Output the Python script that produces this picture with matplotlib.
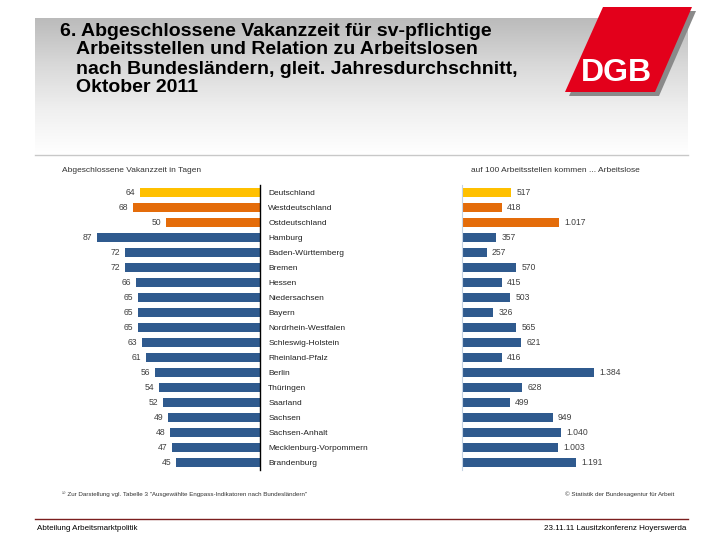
import numpy as np
import matplotlib.pyplot as plt
from matplotlib.patches import Polygon

plt.rcParams['font.family'] = ['Liberation Sans', 'DejaVu Sans']

# Daten
laender = ['Deutschland', 'Westdeutschland', 'Ostdeutschland', 'Hamburg', 'Baden-Württemberg',
           'Bremen', 'Hessen', 'Niedersachsen', 'Bayern', 'Nordrhein-Westfalen',
           'Schleswig-Holstein', 'Rheinland-Pfalz', 'Berlin', 'Thüringen', 'Saarland',
           'Sachsen', 'Sachsen-Anhalt', 'Mecklenburg-Vorpommern', 'Brandenburg']
vakanzzeit = [64, 68, 50, 87, 72, 72, 66, 65, 65, 65, 63, 61, 56, 54, 52, 49, 48, 47, 45]
arbeitslose = [517, 418, 1017, 357, 257, 570, 415, 503, 326, 565, 621, 416, 1384,
               628, 499, 949, 1040, 1003, 1191]

gelb = '#FFC000'
orange = '#E46C0A'
blau = '#2F5A8E'
farben = [gelb, orange, orange] + [blau] * (len(laender) - 3)

W, H = 720, 540
fig = plt.figure(figsize=(W / 100, H / 100), dpi=100)


def px_axes(x0, y0, x1, y1):
    # Achsen in Pixelkoordinaten (y von oben)
    return fig.add_axes([x0 / W, 1 - y1 / H, (x1 - x0) / W, (y1 - y0) / H])


# Hintergrund / Dekoration
bg = fig.add_axes([0, 0, 1, 1])
bg.set_xlim(0, W)
bg.set_ylim(H, 0)
bg.axis('off')

grad = np.linspace(0, 1, 200).reshape(-1, 1)
bg.imshow(grad, extent=(35, 688, 155, 18), cmap='Greys_r', vmin=-1.6, vmax=1.0,
          aspect='auto', zorder=0)
bg.plot([35, 688], [155, 155], color='#C8C8C8', lw=1)

titel = ['6. Abgeschlossene Vakanzzeit für sv-pflichtige',
         'Arbeitsstellen und Relation zu Arbeitslosen',
         'nach Bundesländern, gleit. Jahresdurchschnitt,',
         'Oktober 2011']
for i, zeile in enumerate(titel):
    bg.text(60 if i == 0 else 76, 31 + i * 19, zeile, fontsize=14, fontweight='bold',
            va='center', ha='left', color='black')

# DGB-Logo
bg.add_patch(Polygon([(569, 96), (608, 11), (696, 11), (659, 96)], closed=True,
                     facecolor='#8A8A8A', edgecolor='none', zorder=2))
bg.add_patch(Polygon([(565, 92), (603, 7), (692, 7), (655, 92)], closed=True,
                     facecolor='#E3001B', edgecolor='none', zorder=3))
bg.text(616, 73, 'DGB', color='white', fontsize=23, fontweight='bold',
        ha='center', va='center', zorder=4)

bg.plot([35, 688], [519, 519], color='#7B1F1F', lw=1)
bg.text(37, 529, 'Abteilung Arbeitsmarktpolitik', fontsize=5.8, va='center', ha='left')
bg.text(686, 529, '23.11.11 Lausitzkonferenz Hoyerswerda', fontsize=5.8, va='center', ha='right')

bg.text(62, 171, 'Abgeschlossene Vakanzzeit in Tagen', fontsize=6, va='center',
        ha='left', color='#333333')
bg.text(471, 171, 'auf 100 Arbeitsstellen kommen ... Arbeitslose', fontsize=6,
        va='center', ha='left', color='#333333')
bg.text(62, 494, '¹⁾ Zur Darstellung vgl. Tabelle 3 "Ausgewählte Engpass-Indikatoren nach Bundesländern"',
        fontsize=4.5, va='center', ha='left', color='#333333')
bg.text(674, 494, '© Statistik der Bundesagentur für Arbeit', fontsize=4.5,
        va='center', ha='right', color='#333333')

y = np.arange(len(laender))

# linkes Diagramm: Vakanzzeit
ax1 = px_axes(60, 185, 260, 470)
ax1.barh(y, vakanzzeit, height=0.55, color=farben)
ax1.set_xlim(106.7, 0)
ax1.set_ylim(len(laender) - 0.5, -0.5)
for yi, v in zip(y, vakanzzeit):
    ax1.text(v + 2.5, yi, str(v), fontsize=6.2, va='center', ha='right', color='#404040')
ax1.set_xticks([])
ax1.yaxis.tick_right()
ax1.set_yticks(y)
ax1.set_yticklabels(laender, fontsize=6, color='#222222')
ax1.tick_params(axis='y', length=0, pad=6)
for s in ['top', 'bottom', 'left']:
    ax1.spines[s].set_visible(False)
ax1.spines['right'].set_color('black')
ax1.spines['right'].set_linewidth(1)
ax1.patch.set_alpha(0)

# rechtes Diagramm: Arbeitslose je 100 Arbeitsstellen
ax2 = px_axes(462, 185, 662, 470)
ax2.barh(y, arbeitslose, height=0.55, color=farben)
ax2.set_xlim(0, 2096)
ax2.set_ylim(len(laender) - 0.5, -0.5)
for yi, v in zip(y, arbeitslose):
    ax2.text(v + 55, yi, f'{v:,}'.replace(',', '.'), fontsize=6.2, va='center',
             ha='left', color='#404040')
ax2.set_xticks([])
ax2.set_yticks([])
for s in ['top', 'bottom', 'right']:
    ax2.spines[s].set_visible(False)
ax2.spines['left'].set_color('#C5D3E3')
ax2.patch.set_alpha(0)

fig.savefig('out.png', dpi=100)
